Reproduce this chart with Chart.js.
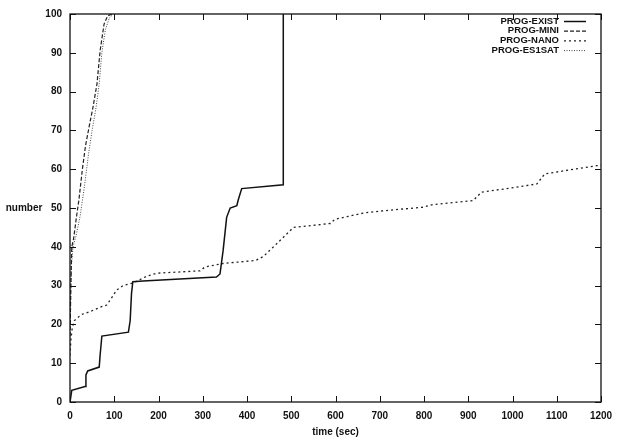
<!DOCTYPE html>
<html>
<head>
<meta charset="utf-8">
<script src="https://cdn.jsdelivr.net/npm/chart.js@4"></script>
<style>
    html, body { margin: 0; padding: 0; background: #fff; }
    #wrap { width: 629px; height: 443px; position: relative; }
</style>
</head>
<body>
<div id="wrap"><canvas id="chart" width="629" height="443"></canvas></div>
<script>
// tick labels
const xTickValues = [0, 100, 200, 300, 400, 500, 600, 700, 800, 900, 1000, 1100, 1200];
const yTickValues = [0, 10, 20, 30, 40, 50, 60, 70, 80, 90, 100];

// series (time in sec, number solved)
const existTime  = [0, 4, 34, 36, 40, 66, 68, 72, 132, 136, 139, 142, 165, 331, 339, 346, 354, 362, 377, 380, 388, 482, 482];
const existCount = [0, 3, 4, 7, 8, 9, 12, 17, 18, 21, 28, 31, 31.2, 32.2, 33, 39, 47.6, 50, 50.6, 52, 55, 56, 100];

const miniTime  = [0, 2, 4, 8, 15, 20, 28, 35, 45, 52, 61, 68, 77, 85, 95];
const miniCount = [17, 30, 40, 42, 48, 52, 60, 66, 72, 76, 82, 90.5, 97.4, 99.5, 100];

const nanoTime  = [0, 2, 5, 10, 25, 45, 70, 83, 95, 105, 120, 143, 173, 196, 294, 305, 346, 420, 437, 460, 478, 505, 588, 599, 663, 700, 798, 821, 911, 930, 987, 1055, 1073, 1190, 1200];
const nanoCount = [12, 16, 19, 21, 22.5, 23.3, 24.5, 25, 27, 28.8, 30, 30.7, 32.4, 33.2, 33.8, 34.8, 35.7, 36.5, 37.5, 40, 42, 45, 46, 47.1, 48.7, 49.2, 50.2, 50.9, 51.9, 54.1, 55, 56.2, 58.8, 60.9, 61];

const es1satTime  = [0, 3, 7, 14, 23, 32, 42, 50, 59, 66, 72, 80, 89, 98];
const es1satCount = [20, 35, 40, 43, 48, 55, 64, 70, 76, 82, 90, 96, 99, 100];

const seriesLabels = ['PROG-EXIST', 'PROG-MINI', 'PROG-NANO', 'PROG-ES1SAT'];

const FONT = 'Liberation Sans, Arial, Helvetica, sans-serif';

function toPoints(xs, ys) {
    return xs.map((x, i) => ({ x: x, y: ys[i] }));
}

// gnuplot style frame with inward ticks on all four sides
const framePlugin = {
    id: 'frame',
    afterDatasetsDraw(chart) {
        const { ctx, chartArea: a, scales } = chart;
        const len = 6;
        ctx.save();
        ctx.strokeStyle = '#111';
        ctx.lineWidth = 1.3;
        ctx.strokeRect(a.left, a.top, a.right - a.left, a.bottom - a.top);
        ctx.lineWidth = 1;
        ctx.beginPath();
        xTickValues.forEach(v => {
            const px = Math.round(scales.x.getPixelForValue(v)) + 0.5;
            ctx.moveTo(px, a.bottom); ctx.lineTo(px, a.bottom - len);
            ctx.moveTo(px, a.top); ctx.lineTo(px, a.top + len);
        });
        yTickValues.forEach(v => {
            const py = Math.round(scales.y.getPixelForValue(v)) + 0.5;
            ctx.moveTo(a.left, py); ctx.lineTo(a.left + len, py);
            ctx.moveTo(a.right, py); ctx.lineTo(a.right - len, py);
        });
        ctx.stroke();

        // axis titles, horizontal like the original
        ctx.fillStyle = '#111';
        ctx.font = 'bold 10px ' + FONT;
        ctx.textAlign = 'center';
        ctx.textBaseline = 'middle';
        ctx.fillText('number', 24, (a.top + a.bottom) / 2);
        ctx.fillText('time (sec)', (a.left + a.right) / 2, 432);
        ctx.restore();
    }
};

// legend: right-aligned label followed by a line sample
const legendPlugin = {
    id: 'sideLegend',
    afterDatasetsDraw(chart) {
        const { ctx } = chart;
        ctx.save();
        ctx.font = 'bold 9.5px ' + FONT;
        ctx.textAlign = 'right';
        ctx.textBaseline = 'middle';
        chart.data.datasets.forEach((ds, i) => {
            const y = 21 + i * 9.7;
            ctx.fillStyle = '#111';
            ctx.fillText(ds.label, 559, y);
            ctx.strokeStyle = ds.borderColor;
            ctx.lineWidth = ds.borderWidth;
            ctx.setLineDash(ds.borderDash || []);
            ctx.beginPath();
            ctx.moveTo(564, y + 0.5);
            ctx.lineTo(586, y + 0.5);
            ctx.stroke();
        });
        ctx.restore();
    }
};

const ctx = document.getElementById('chart').getContext('2d');

new Chart(ctx, {
    type: 'line',
    data: {
        datasets: [{
            label: seriesLabels[0],
            data: toPoints(existTime, existCount),
            borderColor: '#111',
            borderWidth: 1.5,
            borderDash: []
        }, {
            label: seriesLabels[1],
            data: toPoints(miniTime, miniCount),
            borderColor: '#222',
            borderWidth: 1.2,
            borderDash: [4, 2]
        }, {
            label: seriesLabels[2],
            data: toPoints(nanoTime, nanoCount),
            borderColor: '#222',
            borderWidth: 1.3,
            borderDash: [2, 3]
        }, {
            label: seriesLabels[3],
            data: toPoints(es1satTime, es1satCount),
            borderColor: '#444',
            borderWidth: 1,
            borderDash: [1, 1.5]
        }]
    },
    options: {
        responsive: false,
        animation: false,
        elements: {
            point: { radius: 0 },
            line: { tension: 0, fill: false }
        },
        layout: {
            padding: { left: 0, top: 13, right: 28, bottom: 0 }
        },
        scales: {
            x: {
                type: 'linear',
                min: 0,
                max: 1200,
                afterBuildTicks: scale => {
                    scale.ticks = xTickValues.map(v => ({ value: v }));
                },
                afterFit: scale => { scale.height = 41; },
                grid: { display: false, drawTicks: false },
                border: { display: false },
                ticks: {
                    color: '#111',
                    padding: 8,
                    maxRotation: 0,
                    callback: value => String(value),
                    font: { family: FONT, size: 10, weight: 'bold' }
                }
            },
            y: {
                type: 'linear',
                min: 0,
                max: 100,
                afterBuildTicks: scale => {
                    scale.ticks = yTickValues.map(v => ({ value: v }));
                },
                afterFit: scale => { scale.width = 70; },
                grid: { display: false, drawTicks: false },
                border: { display: false },
                ticks: {
                    color: '#111',
                    padding: 8,
                    callback: value => String(value),
                    font: { family: FONT, size: 10, weight: 'bold' }
                }
            }
        },
        plugins: {
            legend: { display: false },
            tooltip: { enabled: false }
        }
    },
    plugins: [framePlugin, legendPlugin]
});
</script>
</body>
</html>
